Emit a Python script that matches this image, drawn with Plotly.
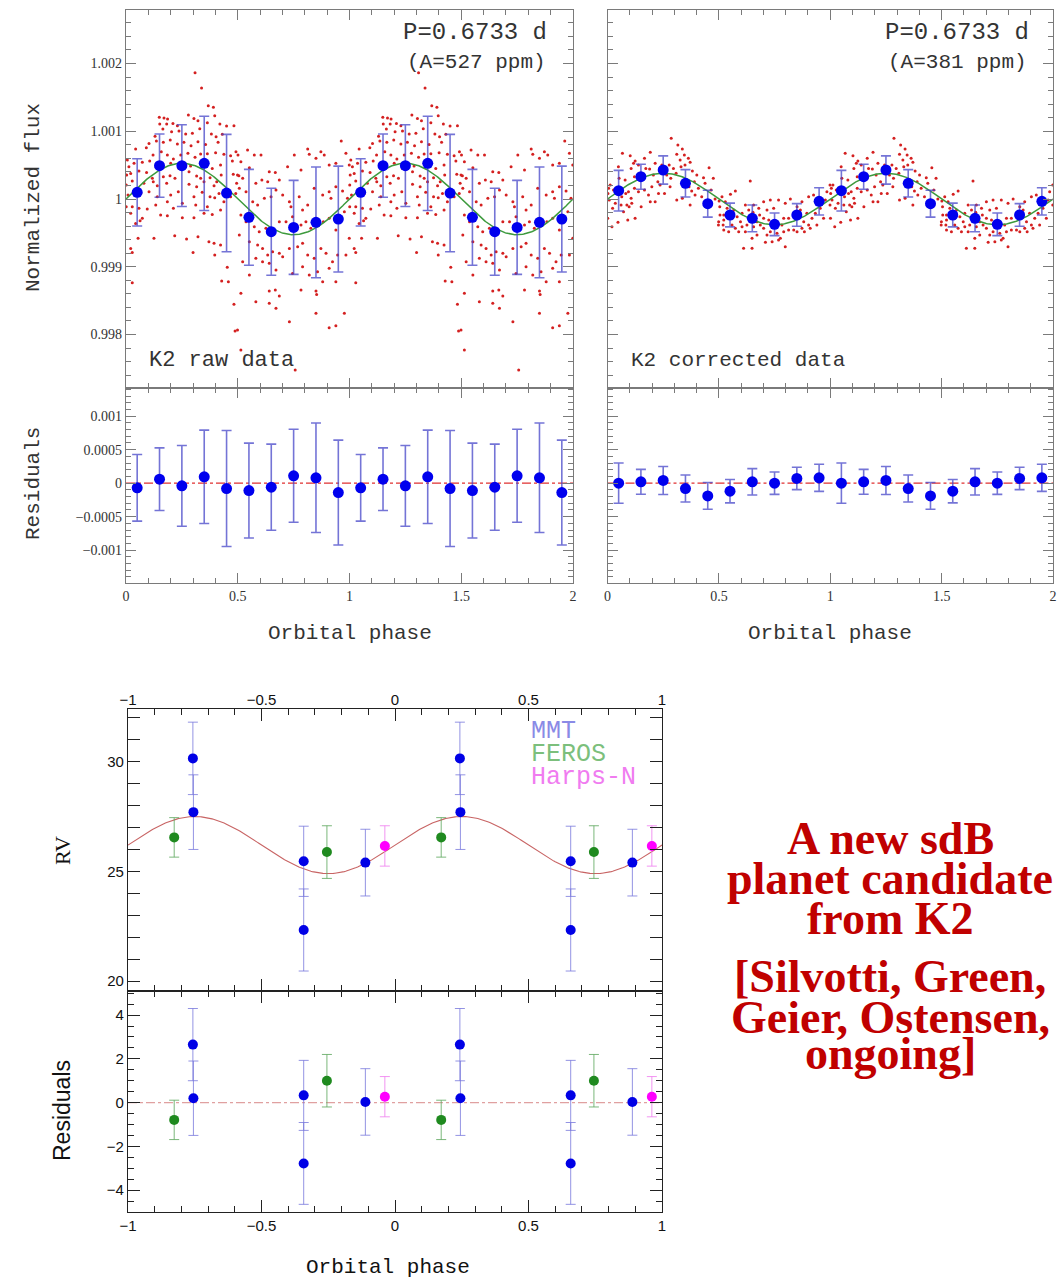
import numpy as np
import plotly.graph_objects as go

W, H = 1062, 1282

# ---------------- K2 light-curve data (one cycle, phase 0..1; shown twice) ----------------
raw_phase = [0.309, 0.338, 0.368, 0.391, 0.149, 0.170, 0.186, 0.151, 0.182, 0.210, 0.230, 0.279, 0.304, 0.322,
             0.364, 0.397, 0.420, 0.450, 0.483, 0.165, 0.204, 0.237, 0.267, 0.297, 0.330, 0.382, 0.403, 0.431,
             0.130, 0.103, 0.136, 0.167, 0.198, 0.230, 0.259, 0.291, 0.322, 0.356, 0.412, 0.006, 0.043, 0.091,
             0.121, 0.158, 0.185, 0.212, 0.245, 0.277, 0.309, 0.334, 0.364, 0.401, 0.438, 0.468, 0.501, 0.013,
             0.036, 0.073, 0.106, 0.136, 0.200, 0.237, 0.289, 0.386, 0.423, 0.476, 0.003, 0.021, 0.058, 0.092,
             0.118, 0.167, 0.197, 0.219, 0.282, 0.316, 0.334, 0.376, 0.426, 0.480, 0.505, 0.001, 0.028, 0.080,
             0.122, 0.140, 0.182, 0.282, 0.316, 0.349, 0.394, 0.406, 0.495, 0.009, 0.066, 0.103, 0.140, 0.200,
             0.234, 0.304, 0.341, 0.376, 0.416, 0.468, 0.491, 0.001, 0.028, 0.058, 0.095, 0.133, 0.185, 0.212,
             0.252, 0.312, 0.364, 0.397, 0.438, 0.021, 0.073, 0.155, 0.185, 0.252, 0.304, 0.349, 0.386, 0.423,
             0.043, 0.063, 0.125, 0.218, 0.271, 0.322, 0.371, 0.394, 0.423, 0.021, 0.054, 0.028, 0.300, 0.397,
             0.453, 0.428, 0.458, 0.028, 0.483, 0.488,
             0.492, 0.544, 0.574, 0.604, 0.514, 0.552, 0.499, 0.522, 0.581, 0.608, 0.641, 0.668, 0.634, 0.686,
             0.723, 0.753, 0.783, 0.813, 0.820, 0.850, 0.872, 0.887, 0.909, 0.939, 0.963, 0.984, 0.999, 0.507,
             0.537, 0.567, 0.589, 0.619, 0.649, 0.671, 0.701, 0.731, 0.738, 0.775, 0.790, 0.813, 0.842, 0.880,
             0.909, 0.917, 0.939, 0.969, 0.991, 0.514, 0.537, 0.574, 0.596, 0.626, 0.686, 0.716, 0.745, 0.783,
             0.805, 0.827, 0.883, 0.909, 0.939, 0.977, 0.507, 0.552, 0.589, 0.611, 0.634, 0.656, 0.686, 0.701,
             0.731, 0.768, 0.790, 0.813, 0.842, 0.872, 0.895, 0.924, 0.947, 0.984, 0.999, 0.522, 0.552, 0.581,
             0.611, 0.641, 0.671, 0.745, 0.790, 0.820, 0.857, 0.880, 0.909, 0.939, 0.514, 0.581, 0.641, 0.668,
             0.686, 0.641, 0.671, 0.783, 0.850, 0.853, 0.850, 0.731, 0.909, 0.939, 0.977, 0.499, 0.514, 0.757]
raw_ppm = [1864, 1638, 1377, 1353, 1205, 1195, 1180, 1107, 1107, 1116, 1082, 1239, 1190, 1156,
           1126, 1230, 1107, 1077, 1082, 1033, 993, 1003, 959, 969, 1038, 959, 920, 954,
           925, 821, 856, 836, 870, 811, 836, 787, 846, 806, 836, 575, 738, 757,
           649, 698, 649, 590, 649, 674, 615, 664, 669, 683, 659, 639, 649, 477,
           526, 541, 560, 467, 526, 452, 487, 452, 501, 560, 354, 378, 413, 393,
           305, 329, 344, 305, 403, 339, 305, 314, 354, 364, 344, 206, 265, 231,
           255, 196, 231, 216, 182, 255, 196, 255, 231, 59, 83, 108, 34, 59,
           108, 34, 98, 34, 83, 34, 83, -114, -114, -138, -148, -89, -40, -138,
           -64, -89, -114, 19, -40, -212, -286, -237, -246, -276, -276, -212, -227, -163,
           -360, -320, -581, -542, -591, -556, -630, -655, -679, -729, -581, -788, -788, -827,
           -1009, -1211, -1221, -1235, -1555, -1949,
           698, 723, 649, 649, 551, 462, 354, 305, 231, 280, 403, 393, 255, 280,
           477, 649, 428, 738, 659, 600, 698, 649, 501, 526, 856, 674, 501, 157,
           108, -40, -89, 10, 34, 132, 59, -40, -114, 34, -163, -89, 157, 59,
           108, 10, 182, 118, 10, -237, -335, -409, -483, -433, -335, -335, -261, -384,
           -335, -433, -335, -286, -458, -187, -532, -630, -679, -729, -827, -778, -802, -852,
           -729, -704, -655, -827, -876, -729, -802, -925, -827, -827, -581, -925, -1122, -876,
           -925, -950, -1048, -1098, -999, -1122, -1073, -1221, -1024, -1221, -1393, -1516, -1358, -1344,
           -1432, -1540, -1614, -1344, -1358, -1408, -1688, -1811, -1900, -1870, -1688, -1934, -2229, -2524]

cor_phase = [0.286, 0.316, 0.336, 0.345, 0.311, 0.326, 0.363, 0.371, 0.192, 0.102, 0.067, 0.166, 0.124, 0.139,
             0.106, 0.189, 0.214, 0.244, 0.277, 0.296, 0.308, 0.266, 0.284, 0.330, 0.348, 0.381, 0.401, 0.456,
             0.431, 0.475, 0.438, 0.390, 0.366, 0.378, 0.408, 0.393, 0.311, 0.336, 0.371, 0.423, 0.465, 0.483,
             0.501, 0.505, 0.498, 0.012, 0.005, 0.027, 0.002, 0.008, 0.035, 0.023, 0.064, 0.082, 0.094, 0.106,
             0.061, 0.072, 0.087, 0.097, 0.109, 0.121, 0.139, 0.166, 0.184, 0.199, 0.226, 0.236, 0.214, 0.229,
             0.151, 0.124, 0.091, 0.047, 0.020, 0.001, 0.172, 0.206, 0.147, 0.121, 0.079, 0.052, 0.049, 0.117,
             0.281, 0.256, 0.353, 0.192,
             0.641, 0.552, 0.574, 0.514, 0.529, 0.504, 0.537, 0.567, 0.522, 0.499, 0.519, 0.582, 0.604, 0.619,
             0.634, 0.656, 0.679, 0.701, 0.731, 0.768, 0.798, 0.821, 0.873, 0.903, 0.925, 0.985, 0.999, 0.978,
             0.955, 0.933, 0.918, 0.895, 0.881, 0.866, 0.836, 0.813, 0.791, 0.783, 0.761, 0.724, 0.701, 0.683,
             0.716, 0.746, 0.671, 0.656, 0.686, 0.701, 0.626, 0.604, 0.597, 0.574, 0.559, 0.589, 0.619, 0.544,
             0.522, 0.731, 0.761, 0.791, 0.813, 0.836, 0.873, 0.903, 0.940, 0.970, 0.716, 0.649, 0.671, 0.776,
             0.709, 0.739, 0.798, 0.768, 0.851, 0.611, 0.649, 0.522, 0.653, 0.999, 0.851, 0.884, 0.559, 0.910]
cor_ppm = [895, 797, 738, 649, 659, 575, 600, 541, 689, 639, 674, 600, 561, 502,
           452, 443, 526, 502, 502, 452, 379, 354, 305, 477, 502, 413, 354, 462,
           315, 305, 231, 256, 182, 118, 157, 59, -15, 10, -89, 34, 133, 0,
           -30, -236, -384, 206, 157, 133, 83, -15, -64, -138, 34, 83, 108, 10,
           -89, -187, -89, -113, -64, 157, 108, 133, 59, 182, 256, 206, -40, 83,
           -113, -286, -310, -345, -409, -286, 452, 354, 305, 329, 280, 305, 477, 526,
           182, 83, 256, -40,
           265, 69, 118, 34, -40, -113, -138, -163, -236, -335, -384, -261, -212, -89,
           -163, -89, -138, -40, -15, -15, -64, 0, -40, 34, 59, 108, 206, -15,
           -138, -212, -286, -212, -335, -163, -236, -286, -286, -384, -335, -310, -286, -236,
           -163, -138, -335, -409, -384, -433, -384, -409, -335, -433, -384, -482, -482, -482,
           -458, -482, -507, -482, -458, -458, -433, -384, -384, -286, -532, -581, -532, -581,
           -640, -630, -704, -605, -482, -728, -728, -310, -197, -89, -113, -482, -286, -433]

bin_phase = [0.05, 0.15, 0.25, 0.35, 0.45, 0.55, 0.65, 0.75, 0.85, 0.95]
raw_bin_ppm = [98, 492, 492, 526, 88, -271, -483, -419, -345, -296]
raw_bin_err = [497, 467, 603, 696, 866, 708, 642, 694, 817, 782]
raw_res_ppm = [-70, 60, -40, 95, -80, -110, -60, 110, 80, -140]
cor_bin_ppm = [123, 329, 428, 231, -69, -236, -286, -374, -236, -35]
cor_bin_err = [300, 185, 209, 202, 199, 175, 197, 167, 167, 202]
cor_res_ppm = [0, 20, 40, -80, -190, -120, 20, 0, 70, 80]
raw_amp_ppm = 527
cor_amp_ppm = 381
period_label = "P=0.6733 d"

# ---------------- RV data ----------------
mmt_phase = [-0.757, -0.755, -0.342, -0.342, -0.111]
mmt_rv = [30.15, 27.7, 25.46, 22.33, 25.4]
mmt_err = [1.65, 1.7, 1.6, 1.87, 1.52]
mmt_res = [2.65, 0.2, 0.33, -2.78, 0.03]
feros_phase = [-0.827, -0.255]
feros_rv = [26.55, 25.88]
feros_err = [0.9, 1.2]
feros_res = [-0.79, 1.0]
harps_phase = [-0.038]
harps_rv = [26.16]
harps_err = [0.92]
harps_res = [0.27]
rv_gamma = 26.2
rv_K = 1.3

# ---------------- helpers ----------------
def two(ph):
    return list(ph) + [p + 1 for p in ph]

def flux(ppm):
    return [1 + v * 1e-6 for v in ppm]

def px(x):
    return x / W

def py(y):
    return 1 - y / H

RED = '#d42020'
BLUE = '#0000ee'
EBAR = 'rgba(70,70,200,0.75)'
GREEN = '#3d9a3d'

fig = go.Figure()

# --- top panels ---
for (xa, ya, xr, yr, ph, ppm, bppm, berr, rppm, amp) in [
        ('x', 'y', 'x2', 'y2', raw_phase, raw_ppm, raw_bin_ppm, raw_bin_err, raw_res_ppm, raw_amp_ppm),
        ('x3', 'y3', 'x4', 'y4', cor_phase, cor_ppm, cor_bin_ppm, cor_bin_err, cor_res_ppm, cor_amp_ppm)]:
    fig.add_trace(go.Scatter(x=two(ph), y=flux(ppm + ppm), mode='markers', xaxis=xa, yaxis=ya,
                             marker=dict(color=RED, size=3), hoverinfo='skip'))
    fg = np.linspace(0, 2, 401)
    fig.add_trace(go.Scatter(x=fg, y=1 + amp * 1e-6 * np.sin(2 * np.pi * fg), mode='lines',
                             xaxis=xa, yaxis=ya, line=dict(color=GREEN, width=1.5)))
    fig.add_trace(go.Scatter(x=two(bin_phase), y=flux(bppm + bppm), mode='markers', xaxis=xa, yaxis=ya,
                             marker=dict(color=BLUE, size=11),
                             error_y=dict(type='data', array=[e * 1e-6 for e in berr + berr],
                                          color=EBAR, thickness=1.6, width=5)))
    fig.add_trace(go.Scatter(x=[0, 2], y=[0, 0], mode='lines', xaxis=xr, yaxis=yr,
                             line=dict(color='#e03030', width=1.2, dash='dashdot')))
    fig.add_trace(go.Scatter(x=two(bin_phase), y=[v * 1e-6 for v in rppm + rppm], mode='markers',
                             xaxis=xr, yaxis=yr, marker=dict(color=BLUE, size=11),
                             error_y=dict(type='data', array=[e * 1e-6 for e in berr + berr],
                                          color=EBAR, thickness=1.6, width=5)))

# --- RV panels ---
rg = np.linspace(-1, 1, 401)
fig.add_trace(go.Scatter(x=rg, y=rv_gamma + rv_K * np.sin(2 * np.pi * rg), mode='lines',
                         xaxis='x5', yaxis='y5', line=dict(color='#c86464', width=1.1)))
fig.add_trace(go.Scatter(x=[-1, 1], y=[0, 0], mode='lines', xaxis='x6', yaxis='y6',
                         line=dict(color='#e0a0a0', width=1.2, dash='dashdot')))
for ph, rv, er, rs, mc, ec in [(mmt_phase, mmt_rv, mmt_err, mmt_res, '#0000e6', 'rgba(120,120,220,0.8)'),
                                (feros_phase, feros_rv, feros_err, feros_res, '#1f8a1f', 'rgba(100,170,100,0.85)'),
                                (harps_phase, harps_rv, harps_err, harps_res, '#ff00ff', 'rgba(240,130,240,0.85)')]:
    fig.add_trace(go.Scatter(x=two(ph), y=rv + rv, mode='markers', xaxis='x5', yaxis='y5',
                             marker=dict(color=mc, size=10),
                             error_y=dict(type='data', array=er + er, color=ec, thickness=1, width=5)))
    fig.add_trace(go.Scatter(x=two(ph), y=rs + rs, mode='markers', xaxis='x6', yaxis='y6',
                             marker=dict(color=mc, size=10),
                             error_y=dict(type='data', array=er + er, color=ec, thickness=1, width=5)))
# invisible trace to activate the top tick-label axis of the RV panel
fig.add_trace(go.Scatter(x=[-1, 1], y=[25, 25], mode='markers', xaxis='x7', yaxis='y5',
                         marker=dict(opacity=0), hoverinfo='skip'))

# ---------------- axes ----------------
SERIF = 'Liberation Serif'
MONO = 'Liberation Mono'
SANS = 'Liberation Sans'
GRAY = '#7a7a7a'


def axis(dom, rng, col, major, minor, labels=True, tickvals=None, ticktext=None, anchor=None,
         font=None, ticklen=10):
    d = dict(domain=dom, range=rng, showgrid=False, zeroline=False, showline=True, linecolor=col,
             linewidth=1.2, mirror='allticks', ticks='inside', ticklen=ticklen, tickwidth=1, tickcolor=col,
             showticklabels=labels, tickfont=font or dict(family=SERIF, size=14, color='#333'),
             minor=dict(ticks='inside', ticklen=ticklen // 2, tickcolor=col, dtick=minor, showgrid=False),
             anchor=anchor, automargin=False)
    if tickvals is not None:
        d['tickvals'] = tickvals
        d['ticktext'] = ticktext
    else:
        d['dtick'] = major
        d['tick0'] = 0
    return d


xL = [px(126), px(573)]
xR = [px(607.5), px(1053)]
yF = [py(388), py(10)]
yRs = [py(583), py(388)]
frange = [0.99721, 1.00279]
rrange = [-0.00149, 0.00142]
ftv = [0.998, 0.999, 1.0, 1.001, 1.002]
ftt = ['0.998', '0.999', '1', '1.001', '1.002']
rtv = [-0.001, -0.0005, 0, 0.0005, 0.001]
rtt = ['\u22120.001', '\u22120.0005', '0', '0.0005', '0.001']
xtv = [0, 0.5, 1, 1.5, 2]
xtt = ['0', '0.5', '1', '1.5', '2']

fig.update_layout(
    xaxis=axis(xL, [0, 2], GRAY, 0.5, 0.1, labels=False, tickvals=xtv, ticktext=xtt, anchor='y'),
    yaxis=axis(yF, frange, GRAY, None, 0.0002, tickvals=ftv, ticktext=ftt, anchor='x'),
    xaxis2=axis(xL, [0, 2], GRAY, 0.5, 0.1, tickvals=xtv, ticktext=xtt, anchor='y2'),
    yaxis2=axis(yRs, rrange, GRAY, None, 0.0001, tickvals=rtv, ticktext=rtt, anchor='x2'),
    xaxis3=axis(xR, [0, 2], GRAY, 0.5, 0.1, labels=False, tickvals=xtv, ticktext=xtt, anchor='y3'),
    yaxis3=axis(yF, frange, GRAY, None, 0.0002, labels=False, tickvals=ftv, ticktext=ftt, anchor='x3'),
    xaxis4=axis(xR, [0, 2], GRAY, 0.5, 0.1, tickvals=xtv, ticktext=xtt, anchor='y4'),
    yaxis4=axis(yRs, rrange, GRAY, None, 0.0001, labels=False, tickvals=rtv, ticktext=rtt, anchor='x4'),
)

xB = [px(128), px(662)]
yRV = [py(991), py(709)]
yRR = [py(1212), py(991)]
sansfont = dict(family=SANS, size=15, color='#111')
btv = [-1, -0.5, 0, 0.5, 1]
btt = ['\u22121', '\u22120.5', '0', '0.5', '1']
fig.update_layout(
    xaxis5=axis(xB, [-1, 1], '#222', 0.5, 0.1, labels=False, tickvals=btv, ticktext=btt, anchor='y5',
                font=sansfont, ticklen=12),
    yaxis5=axis(yRV, [19.55, 32.4], '#222', None, 1, tickvals=[20, 25, 30], ticktext=['20', '25', '30'],
                anchor='x5', font=sansfont, ticklen=12),
    xaxis6=axis(xB, [-1, 1], '#222', 0.5, 0.1, tickvals=btv, ticktext=btt, anchor='y6', font=sansfont,
                ticklen=12),
    yaxis6=axis(yRR, [-5.0, 5.1], '#222', None, 0.5, tickvals=[-4, -2, 0, 2, 4],
                ticktext=['\u22124', '\u22122', '0', '2', '4'], anchor='x6', font=sansfont, ticklen=12),
    xaxis7=dict(domain=xB, range=[-1, 1], overlaying='x5', side='top', anchor='y5', showgrid=False,
                zeroline=False, showline=False, ticks='', tickvals=btv, ticktext=btt, tickfont=sansfont,
                automargin=False),
)

# ---------------- text ----------------
ann = []


def A(text, x, y, size, family=MONO, color='#333', xanchor='center', yanchor='middle', angle=0,
      bold=False):
    ann.append(dict(text=('<b>%s</b>' % text) if bold else text, x=px(x), y=py(y), xref='paper',
                    yref='paper', showarrow=False, xanchor=xanchor, yanchor=yanchor, textangle=angle,
                    font=dict(family=family, size=size, color=color)))


A('Normalized flux', 33, 198, 21, angle=-90)
A('Residuals', 33, 484, 21, angle=-90)
A('Orbital phase', 350, 633, 21)
A('Orbital phase', 830, 633, 21)
A(period_label, 549, 33, 24, xanchor='right')
A('(A=%d ppm)' % raw_amp_ppm, 548, 62, 21, xanchor='right')
A('K2 raw data', 147, 361, 22, xanchor='left')
A(period_label, 1031, 33, 24, xanchor='right')
A('(A=%d ppm)' % cor_amp_ppm, 1029, 62, 21, xanchor='right')
A('K2 corrected data', 629, 361, 21, xanchor='left')

A('RV', 62, 851, 22, family=SERIF, color='#111', angle=-90)
A('Residuals', 62, 1111, 23, family=SANS, color='#111', angle=-90)
A('Orbital phase', 388, 1267, 21, color='#111')
A('MMT', 529, 731, 25, color='#8a8ae6', xanchor='left')
A('FEROS', 529, 754, 25, color='#7cbf7c', xanchor='left')
A('Harps-N', 529, 777, 25, color='#f07cf0', xanchor='left')

DARKRED = '#c00000'
for txt, yy in [('A new sdB', 838), ('planet candidate', 878), ('from K2', 918),
                ('[Silvotti, Green,', 977), ('Geier, Ostensen,', 1017), ('ongoing]', 1053)]:
    A(txt, 890, yy, 46, family=SERIF, color=DARKRED, bold=True)

fig.update_layout(annotations=ann, width=W, height=H, autosize=False, showlegend=False,
                  margin=dict(l=0, r=0, t=0, b=0), paper_bgcolor='white', plot_bgcolor='white')

fig.write_html('out.html')
